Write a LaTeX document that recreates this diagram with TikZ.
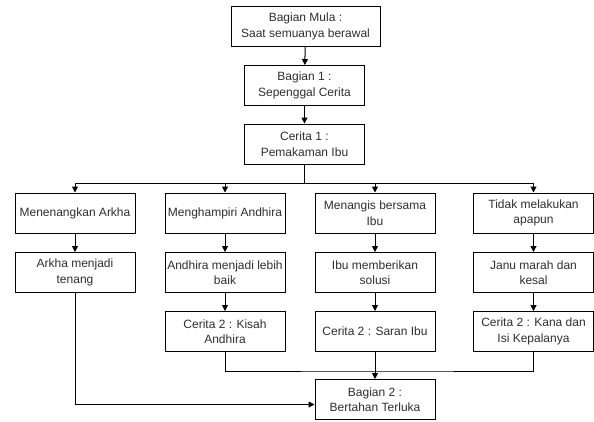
\documentclass[tikz,border=0pt]{standalone}
\usepackage{fontspec}
\setmainfont{Liberation Sans}
\usetikzlibrary{arrows.meta}
\begin{document}
\begin{tikzpicture}[x=1pt,y=-1pt,
  box/.style={draw, line width=1pt, minimum width=120pt, minimum height=40pt,
    align=center, inner sep=1pt, font=\fontsize{12}{15.5}\selectfont, text=black!82},
  arr/.style={line width=1pt, -{Triangle[width=6pt,length=6pt]}},
  ln/.style={line width=1pt}]
\useasboundingbox (0,0) rectangle (594,421);

% spine
\node[box, minimum width=149pt] (mula) at (305.5,26.5) {Bagian Mula :\\Saat semuanya berawal};
\node[box] (bag1) at (304.5,85.5) {Bagian 1 :\\Sepenggal Cerita};
\node[box] (cer1) at (304.5,144) {Cerita 1 :\\Pemakaman Ibu};

% four choices
\node[box] (a1) at (75,213) {Menenangkan Arkha};
\node[box] (b1) at (225,213) {Menghampiri Andhira};
\node[box] (c1) at (375,213) {Menangis bersama\\Ibu};
\node[box] (d1) at (533.5,213) {Tidak melakukan\\apapun};

\node[box] (a2) at (75,272.5) {Arkha menjadi\\tenang};
\node[box] (b2) at (225,272.5) {Andhira menjadi lebih\\baik};
\node[box] (c2) at (375,272.5) {Ibu memberikan\\solusi};
\node[box] (d2) at (533.5,272.5) {Janu marah dan\\kesal};

\node[box] (b3) at (225,331.5) {Cerita 2 : Kisah\\Andhira};
\node[box] (c3) at (375,331.5) {Cerita 2 : Saran Ibu};
\node[box] (d3) at (533.5,331.5) {Cerita 2 : Kana dan\\Isi Kepalanya};

\node[box] (bag2) at (375,399.5) {Bagian 2 :\\Bertahan Terluka};

% connectors
\draw[arr] (mula) -- (bag1);
\draw[arr] (bag1) -- (cer1);
\draw[ln] (cer1.south) -- ++(0,19) coordinate (bus);
\draw[arr] (bus) -| (a1.north);
\draw[arr] (bus) -| (b1.north);
\draw[arr] (bus) -| (c1.north);
\draw[arr] (bus) -| (d1.north);

\draw[arr] (a1) -- (a2);
\draw[arr] (b1) -- (b2);
\draw[arr] (c1) -- (c2);
\draw[arr] (d1) -- (d2);
\draw[arr] (b2) -- (b3);
\draw[arr] (c2) -- (c3);
\draw[arr] (d2) -- (d3);

\path (c3.south) ++(0,19) coordinate (join);
\draw[ln] (b3.south) |- (join) -| (d3.south);
\draw[arr] (c3.south) -- (bag2.north);
\draw[arr] (a2.south) |- ([yshift=-5pt]bag2.west);
\end{tikzpicture}
\end{document}
